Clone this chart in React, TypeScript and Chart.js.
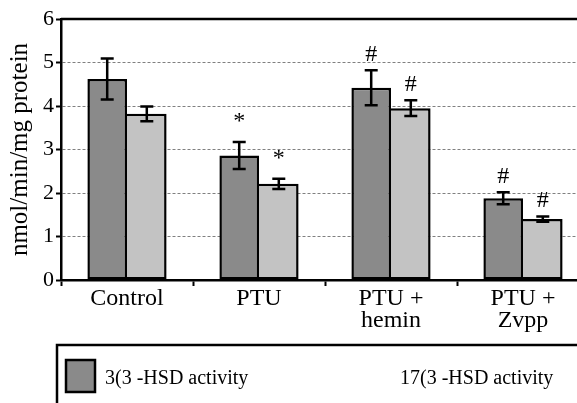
import React, { useEffect, useRef } from 'react';
import { Chart, registerables } from 'chart.js';

Chart.register(...registerables);

const categories: (string | string[])[] = ['Control', 'PTU', ['PTU +', 'hemin'], ['PTU +', 'Zvpp']];
const hsd3Label = '3(3 -HSD activity';
const hsd17Label = '17(3 -HSD activity';
const hsd3Values = [4.62, 2.86, 4.42, 1.88];
const hsd3Errors = [0.47, 0.31, 0.4, 0.14];
const hsd17Values = [3.82, 2.21, 3.95, 1.4];
const hsd17Errors = [0.17, 0.12, 0.18, 0.06];
const hsd3Marks = ['', '*', '#', '#'];
const hsd17Marks = ['', '*', '#', '#'];
const yTicks = [0, 1, 2, 3, 4, 5, 6];

const FONT = '"Liberation Serif", "Times New Roman", serif';
const DARK = '#8a8a8a';
const LIGHT = '#c3c3c3';

export default function App() {
  const ref = useRef<HTMLCanvasElement>(null);

  useEffect(() => {
    document.body.style.margin = '0';
    document.body.style.overflow = 'hidden';
    const canvas = ref.current!;
    const errs = [hsd3Errors, hsd17Errors];
    const marks = [hsd3Marks, hsd17Marks];

    const errPlugin = {
      id: 'errbars',
      afterDatasetsDraw(chart: any) {
        const ctx = chart.ctx;
        const y = chart.scales.y;
        chart.data.datasets.forEach((ds: any, di: number) => {
          const meta = chart.getDatasetMeta(di);
          meta.data.forEach((bar: any, i: number) => {
            const v = ds.data[i];
            const e = errs[di][i];
            const x = bar.x;
            const yt = y.getPixelForValue(v + e);
            const yb = y.getPixelForValue(v - e);
            ctx.save();
            ctx.strokeStyle = '#000';
            ctx.lineWidth = 2.5;
            ctx.beginPath();
            ctx.moveTo(x, yt);
            ctx.lineTo(x, yb);
            ctx.moveTo(x - 6.5, yt);
            ctx.lineTo(x + 6.5, yt);
            ctx.moveTo(x - 6.5, yb);
            ctx.lineTo(x + 6.5, yb);
            ctx.stroke();
            const m = marks[di][i];
            if (m) {
              ctx.fillStyle = '#000';
              ctx.textAlign = 'center';
              ctx.textBaseline = 'alphabetic';
              ctx.font = `24px ${FONT}`;
              ctx.fillText(m, x, m === '*' ? yt - 14 : yt - 9);
            }
            ctx.restore();
          });
        });
      },
      afterDraw(chart: any) {
        const ctx = chart.ctx;
        const area = chart.chartArea;
        ctx.save();
        ctx.strokeStyle = '#000';
        ctx.lineWidth = 2.5;
        ctx.beginPath();
        ctx.moveTo(area.left, area.top);
        ctx.lineTo(chart.width, area.top);
        ctx.stroke();
        // legend box
        ctx.beginPath();
        ctx.moveTo(57, chart.height + 5);
        ctx.lineTo(57, 345);
        ctx.lineTo(chart.width + 5, 345);
        ctx.stroke();
        // swatch
        ctx.fillStyle = DARK;
        ctx.fillRect(66, 360, 29, 32);
        ctx.strokeRect(66, 360, 29, 32);
        ctx.fillStyle = '#000';
        ctx.font = `20px ${FONT}`;
        ctx.textAlign = 'left';
        ctx.textBaseline = 'alphabetic';
        ctx.fillText(chart.data.datasets[0].label, 105, 384);
        ctx.fillText(chart.data.datasets[1].label, 400, 384);
        ctx.restore();
      },
    };

    const chart = new Chart(canvas, {
      type: 'bar',
      data: {
        labels: categories,
        datasets: [
          {
            label: hsd3Label,
            data: hsd3Values,
            backgroundColor: DARK,
            borderColor: '#000',
            borderWidth: 2.5,
            borderSkipped: false,
            categoryPercentage: 0.6,
            barPercentage: 1,
          },
          {
            label: hsd17Label,
            data: hsd17Values,
            backgroundColor: LIGHT,
            borderColor: '#000',
            borderWidth: 2.5,
            borderSkipped: 'left',
            categoryPercentage: 0.6,
            barPercentage: 1,
          },
        ],
      },
      options: {
        animation: false,
        responsive: false,
        layout: { padding: { left: 0, right: 11, top: 19, bottom: 0 } },
        plugins: { legend: { display: false }, tooltip: { enabled: false } },
        scales: {
          x: {
            grid: {
              display: true,
              drawOnChartArea: false,
              drawTicks: true,
              tickLength: 6,
              tickColor: '#000',
              tickWidth: 2,
              offset: true,
            },
            border: { color: '#000', width: 2.5 },
            ticks: { color: '#000', font: { family: FONT, size: 24, lineHeight: 0.92 }, padding: 2, maxRotation: 0 },
            afterFit: (s: any) => {
              s.height = 123;
            },
          },
          y: {
            min: 0,
            max: 6,
            afterBuildTicks: (s: any) => {
              s.ticks = yTicks.map((v) => ({ value: v }));
            },
            grid: {
              color: (c: any) => (c.tick && (c.tick.value === 0 || c.tick.value === 6) ? 'rgba(0,0,0,0)' : '#808080'),
              lineWidth: 1,
              drawTicks: true,
              tickLength: 5,
              tickColor: '#000',
              tickWidth: 2,
            },
            border: { color: '#000', width: 2.5, dash: [3, 2] },
            ticks: { color: '#000', font: { family: FONT, size: 22 }, padding: 2 },
            title: {
              display: true,
              text: 'nmol/min/mg protein',
              color: '#000',
              font: { family: FONT, size: 25 },
              padding: { top: 5, bottom: 0 },
            },
            afterFit: (s: any) => {
              s.width = 61;
            },
          },
        },
      },
      plugins: [errPlugin],
    });
    return () => chart.destroy();
  }, []);

  return (
    <div style={{ position: 'fixed', left: 0, top: 0, width: 577, height: 403, overflow: 'hidden', background: '#fff' }}>
      <canvas ref={ref} width={600} height={403} style={{ display: 'block' }} />
    </div>
  );
}
